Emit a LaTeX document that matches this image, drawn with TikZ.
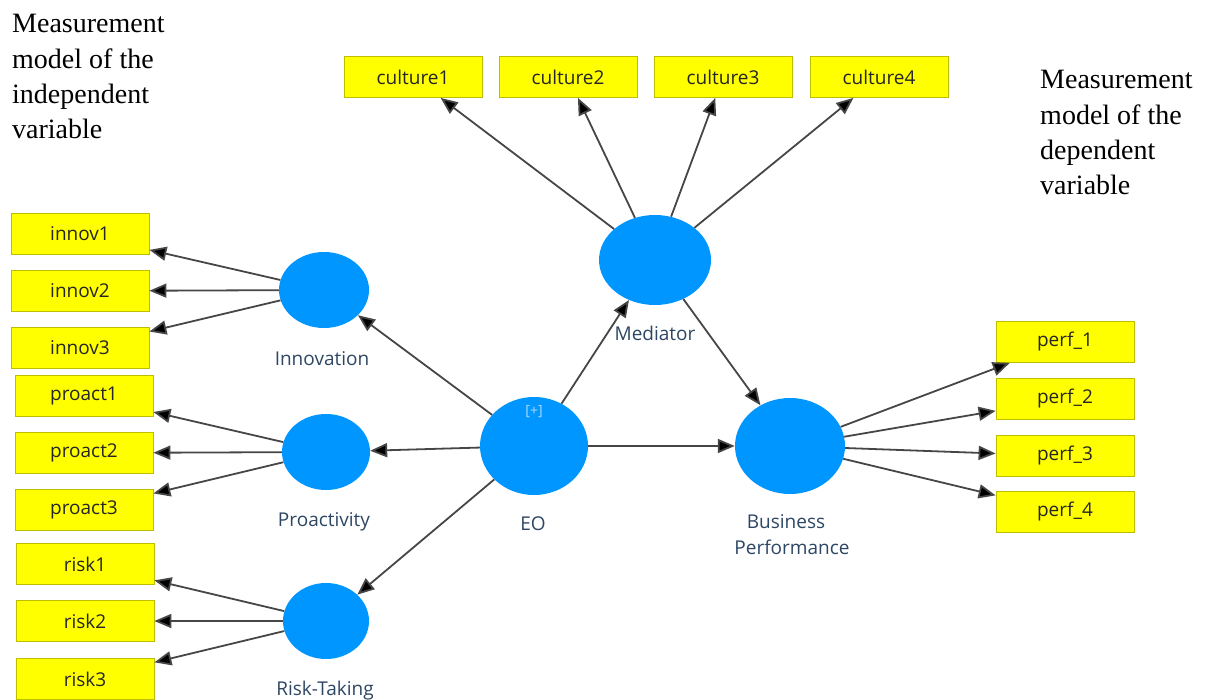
\documentclass[tikz,border=0pt]{standalone}
\usepackage{fontspec}
\usetikzlibrary{shapes.geometric,arrows.meta}
\newfontfamily\lblfont{Open Sans}
\newfontfamily\notefont{Liberation Serif}
\definecolor{boxfill}{RGB}{255,255,0}
\definecolor{boxline}{RGB}{190,190,0}
\definecolor{lvfill}{RGB}{0,150,255}
\definecolor{linec}{RGB}{70,70,70}
\definecolor{lvtext}{RGB}{45,70,100}
\definecolor{plustext}{RGB}{170,220,255}
\tikzset{
  ind/.style={rectangle, draw=boxline, line width=0.8pt, fill=boxfill, minimum width=138pt, minimum height=41pt, inner sep=0pt, font=\lblfont\fontsize{19}{22}\selectfont, text=black!85},
  lv/.style={ellipse, fill=lvfill, draw=none, inner sep=0pt},
  lvlabel/.style={anchor=base, inner sep=0pt, font=\lblfont\fontsize{19}{22}\selectfont, text=lvtext},
  note/.style={anchor=base west, inner sep=0pt, font=\notefont\fontsize{28}{30}\selectfont, text=black},
  arr/.style={draw=linec, line width=1.8pt, -{Triangle[length=17pt,width=14pt,fill=black]}}
}
\begin{document}
\begin{tikzpicture}[x=1pt,y=-1pt]
\useasboundingbox (0,0) rectangle (1209,700);
% notes
\node[note] (n1a) at (12,33) {Measurement};
\node[note] (n1b) at (12,69) {model of the};
\node[note] (n1c) at (12,104) {independent};
\node[note] (n1d) at (12,139) {variable};
\node[note] (n2a) at (1040,89) {Measurement};
\node[note] (n2b) at (1040,125) {model of the};
\node[note] (n2c) at (1040,160) {dependent};
\node[note] (n2d) at (1040,195) {variable};
% indicators
\node[ind] (c1) at (413,77) {culture1};
\node[ind] (c2) at (568,77) {culture2};
\node[ind] (c3) at (723,77) {culture3};
\node[ind] (c4) at (879,77) {culture4};
\node[ind] (i1) at (80,234) {innov1};
\node[ind] (i2) at (80,291) {innov2};
\node[ind] (i3) at (80,348) {innov3};
\node[ind] (p1) at (84,396) {proact1};
\node[ind] (p2) at (84,453) {proact2};
\node[ind] (p3) at (84,510) {proact3};
\node[ind] (r1) at (85,564) {risk1};
\node[ind] (r2) at (85,621) {risk2};
\node[ind] (r3) at (85,679) {risk3};
\node[ind] (f1) at (1065,342) {perf\_1};
\node[ind] (f2) at (1065,399) {perf\_2};
\node[ind] (f3) at (1065,456) {perf\_3};
\node[ind] (f4) at (1065,512) {perf\_4};
% latent variables
\node[lv, minimum width=90pt, minimum height=76pt] (inn) at (324,290) {};
\node[lv, minimum width=88pt, minimum height=76pt] (pro) at (326,452) {};
\node[lv, minimum width=86pt, minimum height=76pt] (risk) at (326,621) {};
\node[lv, minimum width=108pt, minimum height=98pt] (eo) at (534,446) {};
\node[lv, minimum width=112pt, minimum height=90pt] (med) at (655,260) {};
\node[lv, minimum width=110pt, minimum height=96pt] (bp) at (790,446) {};
\node[inner sep=0pt, font=\lblfont\fontsize{14}{16}\selectfont, text=plustext] (plus) at (534,412) {[+]};
% labels
\node[lvlabel] (linn) at (322,365) {Innovation};
\node[lvlabel] (lpro) at (324,526) {Proactivity};
\node[lvlabel] (lrisk) at (325,695) {Risk-Taking};
\node[lvlabel] (leo) at (533,530) {EO};
\node[lvlabel] (lmed) at (655,341) {Mediator};
\node[lvlabel] (lbp1) at (786,528) {Business};
\node[lvlabel] (lbp2) at (792,554) {Performance};
% arrows
\foreach \t in {c1,c2,c3,c4} \draw[arr] (med) -- (\t);
\foreach \t in {i1,i2,i3} \draw[arr] (inn) -- (\t);
\foreach \t in {p1,p2,p3} \draw[arr] (pro) -- (\t);
\foreach \t in {r1,r2,r3} \draw[arr] (risk) -- (\t);
\foreach \t in {f1,f2,f3,f4} \draw[arr] (bp) -- (\t);
\draw[arr] (eo) -- (inn);
\draw[arr] (eo) -- (pro);
\draw[arr] (eo) -- (risk);
\draw[arr] (eo) -- (med);
\draw[arr] (eo) -- (bp);
\draw[arr] (med) -- (bp);
\end{tikzpicture}
\end{document}
